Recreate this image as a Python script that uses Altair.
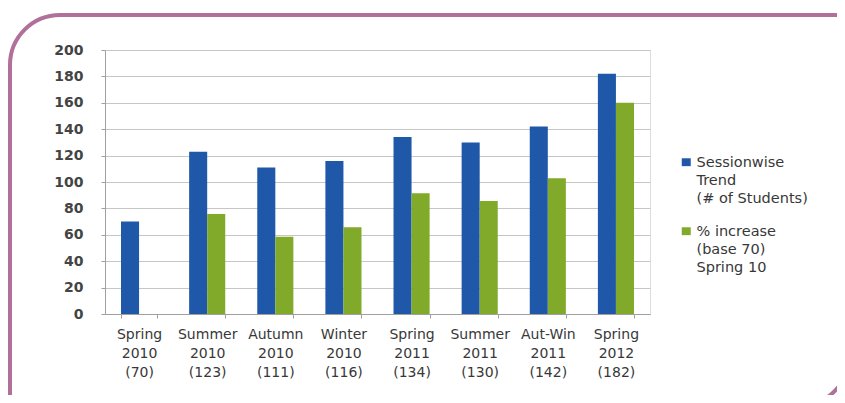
import altair as alt
import pandas as pd

# ---- data ----
categories = ["Spring 2010 (70)", "Summer 2010 (123)", "Autumn 2010 (111)",
              "Winter 2010 (116)", "Spring 2011 (134)", "Summer 2011 (130)",
              "Aut-Win 2011 (142)", "Spring 2012 (182)"]
students = [70, 123, 111, 116, 134, 130, 142, 182]
pct_increase = [0, 75.7, 58.6, 65.7, 91.4, 85.7, 102.9, 160.0]
series = ["Sessionwise Trend (# of Students)", "% increase (base 70) Spring 10"]
legend_lines = [["Sessionwise", "Trend", "(# of Students)"],
                ["% increase", "(base 70)", "\u00a0Spring 10"]]
y_ticks = list(range(0, 201, 20))
colors = ["#1F58A8", "#82AA2A"]

rows = []
for c, a, b in zip(categories, students, pct_increase):
    rows.append({"cat": c, "series": series[0], "value": a})
    rows.append({"cat": c, "series": series[1], "value": b})
df = pd.DataFrame(rows)

legend_expr = ("datum.label == '%s' ? %s : %s" % (
    series[0],
    "[" + ",".join("'%s'" % s for s in legend_lines[0]) + "]",
    "[" + ",".join("'%s'" % s for s in legend_lines[1]) + "]"))

FONT = "DejaVu Sans"

bars = alt.Chart(df).mark_bar().encode(
    x=alt.X("cat:N", sort=categories, title=None,
            scale=alt.Scale(paddingInner=0.47, paddingOuter=0.235),
            axis=alt.Axis(labelAngle=0, labelExpr="split(datum.label, ' ')",
                          labelFont=FONT, labelFontSize=14, labelColor="#383838",
                          labelLineHeight=19, labelPadding=9,
                          tickBand="extent", ticks=True, tickSize=4,
                          tickColor="#a0a0a0", domainColor="#a0a0a0",
                          grid=False)),
    xOffset=alt.XOffset("series:N", sort=series, scale=alt.Scale(paddingInner=0, paddingOuter=0)),
    y=alt.Y("value:Q", title=None,
            scale=alt.Scale(domain=[0, 200], nice=False),
            axis=alt.Axis(values=y_ticks, labelFont=FONT, labelFontSize=14,
                          labelFontWeight="bold", labelColor="#444444",
                          labelPadding=18, tickSize=4, tickColor="#a0a0a0",
                          domainColor="#a0a0a0", gridColor="#c6c6c6",
                          gridWidth=1.2)),
    color=alt.Color("series:N", sort=series, title=None,
                    scale=alt.Scale(domain=series, range=colors),
                    legend=alt.Legend(orient="none", legendX=574, legendY=99,
                                      labelExpr=legend_expr, labelFont=FONT,
                                      labelFontSize=14.5, labelColor="#383838",
                                      labelBaseline="top",
                                      symbolType="M-1,0.45H1V2.2H-1Z", symbolSize=81,
                                      symbolStrokeWidth=0, symbolOpacity=1,
                                      labelOffset=3, rowPadding=12, padding=0,
                                      labelLimit=300)),
)

frame = alt.Chart(pd.DataFrame({"f": [0]})).mark_rect(
    filled=False, stroke="#B0709A", strokeWidth=4,
    cornerRadiusTopLeft=50, cornerRadiusBottomRight=50,
).encode(x=alt.value(-95), x2=alt.value(744), y=alt.value(-35), y2=alt.value(356))

chart = alt.layer(bars, frame).properties(
    width=545, height=264,
    autosize=alt.AutoSizeParams(type="none"),
    padding={"left": 97, "top": 42, "right": 187, "bottom": 81},
).configure_view(stroke=None).configure(style={"guide-label": {"lineHeight": 18}})

chart.save("out.html", embed_options={"renderer": "svg", "actions": False})
